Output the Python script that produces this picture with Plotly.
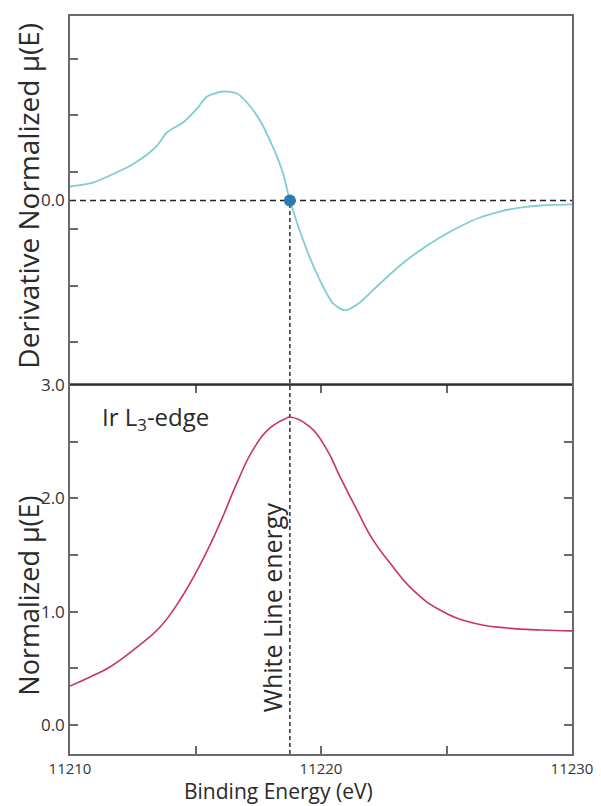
import plotly.graph_objects as go

# ---- data ----
deriv_energy = [11210.00, 11210.92, 11211.59, 11212.27, 11212.91, 11213.47, 11213.86, 11214.50,
                11215.06, 11215.46, 11216.10, 11216.65, 11217.05, 11217.57, 11218.09, 11218.49,
                11218.76, 11219.44, 11219.96, 11220.48, 11220.96, 11221.55, 11222.35, 11223.15,
                11223.94, 11224.74, 11225.54, 11226.33, 11227.13, 11227.93, 11228.73, 11230.00]
deriv_value = [0.123, 0.158, 0.220, 0.290, 0.379, 0.484, 0.599, 0.687,
               0.810, 0.915, 0.960, 0.942, 0.863, 0.704, 0.467, 0.238,
               0.000, -0.440, -0.704, -0.907, -0.968, -0.898, -0.731, -0.572,
               -0.440, -0.326, -0.229, -0.150, -0.097, -0.062, -0.044, -0.035]

mu_energy = [11210.00, 11210.80, 11211.59, 11212.67, 11213.59, 11214.38, 11215.18, 11215.98,
             11216.65, 11217.29, 11217.97, 11218.65, 11218.76, 11219.56, 11220.24, 11220.76,
             11221.43, 11222.07, 11222.75, 11223.66, 11224.74, 11226.06, 11227.41, 11228.73,
             11230.00]
mu_value = [0.344, 0.424, 0.512, 0.688, 0.865, 1.103, 1.412, 1.783,
            2.136, 2.427, 2.621, 2.710, 2.718, 2.630, 2.427, 2.189,
            1.898, 1.633, 1.430, 1.192, 1.015, 0.900, 0.856, 0.838,
            0.830]

white_line_energy = 11218.76

x_tickvals = [11210, 11215, 11220, 11225, 11230]
x_ticktext = ["11210", "", "11220", "", "11230"]
mu_tickvals = [0, 1, 2, 3]
mu_ticktext = ["0.0", "1.0", "2.0", "3.0"]

FONT = "Open Sans"
FRAME = "#6a6a6a"
TXT = "#2a2a2a"

fig = go.Figure()

fig.add_trace(go.Scatter(x=deriv_energy, y=deriv_value, mode="lines",
                         line=dict(color="#7fcdd5", width=1.8, shape="spline", smoothing=0.7),
                         xaxis="x", yaxis="y", showlegend=False))
fig.add_trace(go.Scatter(x=mu_energy, y=mu_value, mode="lines",
                         line=dict(color="#c8336a", width=1.6, shape="spline", smoothing=1.3),
                         xaxis="x2", yaxis="y2", showlegend=False))

# zero line in the derivative panel
fig.add_shape(type="line", xref="x", yref="y", x0=11210, x1=11230, y0=0, y1=0,
              line=dict(color="#222222", width=1.4, dash="6px,4px"), layer="below")
# white line energy marker line (from derivative zero down to bottom axis)
fig.add_shape(type="line", xref="x2", yref="paper", x0=white_line_energy, x1=white_line_energy,
              y0=0, y1=0.75, line=dict(color="#3a3a3a", width=1.6, dash="4px,3px"), layer="below")
# divider between the panels
fig.add_shape(type="line", xref="paper", yref="paper", x0=0, x1=1, y0=0.5, y1=0.5,
              line=dict(color="#1e1e1e", width=1.3))

fig.add_trace(go.Scatter(x=[white_line_energy], y=[0], mode="markers",
                         marker=dict(color="#2b7bb1", size=12), xaxis="x", yaxis="y",
                         showlegend=False))

fig.add_annotation(x=11211.2, y=2.71, xref="x2", yref="y2", text="Ir L<sub>3</sub>-edge",
                   showarrow=False, xanchor="left", yanchor="middle",
                   font=dict(family=FONT, size=24, color=TXT))
fig.add_annotation(x=11218.05, y=1.04, xref="x2", yref="y2", text="White Line energy",
                   showarrow=False, textangle=-90, xanchor="center", yanchor="middle",
                   font=dict(family=FONT, size=25, color=TXT))

# axis titles placed as in the reference
fig.add_annotation(x=-0.083, y=0.757, xref="paper", yref="paper",
                   text="Derivative Normalized μ(E)", showarrow=False, textangle=-90,
                   xanchor="center", yanchor="middle", font=dict(family=FONT, size=28, color=TXT))
fig.add_annotation(x=-0.083, y=0.215, xref="paper", yref="paper",
                   text="Normalized μ(E)", showarrow=False, textangle=-90,
                   xanchor="center", yanchor="middle", font=dict(family=FONT, size=27, color=TXT))
fig.add_annotation(x=0.416, y=-0.0705, xref="paper", yref="paper",
                   text="Binding Energy (eV)", showarrow=False, borderpad=0,
                   xanchor="center", yanchor="bottom", font=dict(family=FONT, size=21, color=TXT))

fig.update_layout(
    width=601, height=806,
    margin=dict(l=70, r=29, t=16, b=52),
    paper_bgcolor="white", plot_bgcolor="white",
    font=dict(family=FONT, size=16, color=TXT),
    xaxis=dict(domain=[0, 1], anchor="y", range=[11210, 11230], side="top", showline=True,
               mirror=False, linecolor=FRAME, linewidth=1.5, showgrid=False, zeroline=False,
               ticks="", showticklabels=False, automargin=False),
    yaxis=dict(domain=[0.5, 1], anchor="x", range=[-1.625, 1.625], showline=True, mirror=True,
               linecolor=FRAME, linewidth=1.5, showgrid=False, zeroline=False,
               tickvals=[0], ticktext=["0.0"], ticks="inside", ticklen=0, automargin=False,
               minor=dict(tick0=0.25, dtick=0.5, ticks="inside", ticklen=8, tickcolor=FRAME,
                          tickwidth=1.5, showgrid=False),
               tickfont=dict(size=17, color="#333333")),
    xaxis2=dict(domain=[0, 1], anchor="y2", range=[11210, 11230], showline=True, mirror="ticks",
                linecolor=FRAME, linewidth=1.5, showgrid=False, zeroline=False, automargin=False,
                tickvals=x_tickvals, ticktext=x_ticktext, ticks="inside", ticklen=8,
                tickcolor=FRAME, tickwidth=1.5, tickfont=dict(size=15, color="#333333")),
    yaxis2=dict(domain=[0, 0.5], anchor="x2", range=[-0.256, 3.0], showline=True, mirror="ticks",
                linecolor=FRAME, linewidth=1.5, showgrid=False, zeroline=False, automargin=False,
                tickvals=mu_tickvals, ticktext=mu_ticktext, ticks="inside", ticklen=8,
                tickcolor=FRAME, tickwidth=1.5,
                minor=dict(tick0=0.5, dtick=1, ticks="inside", ticklen=8, tickcolor=FRAME,
                           tickwidth=1.5, showgrid=False),
                tickfont=dict(size=17, color="#333333")),
)

fig.write_html("out.html", config={"displayModeBar": False},
               post_script="document.body.style.margin='0';document.body.style.overflow='hidden';")
